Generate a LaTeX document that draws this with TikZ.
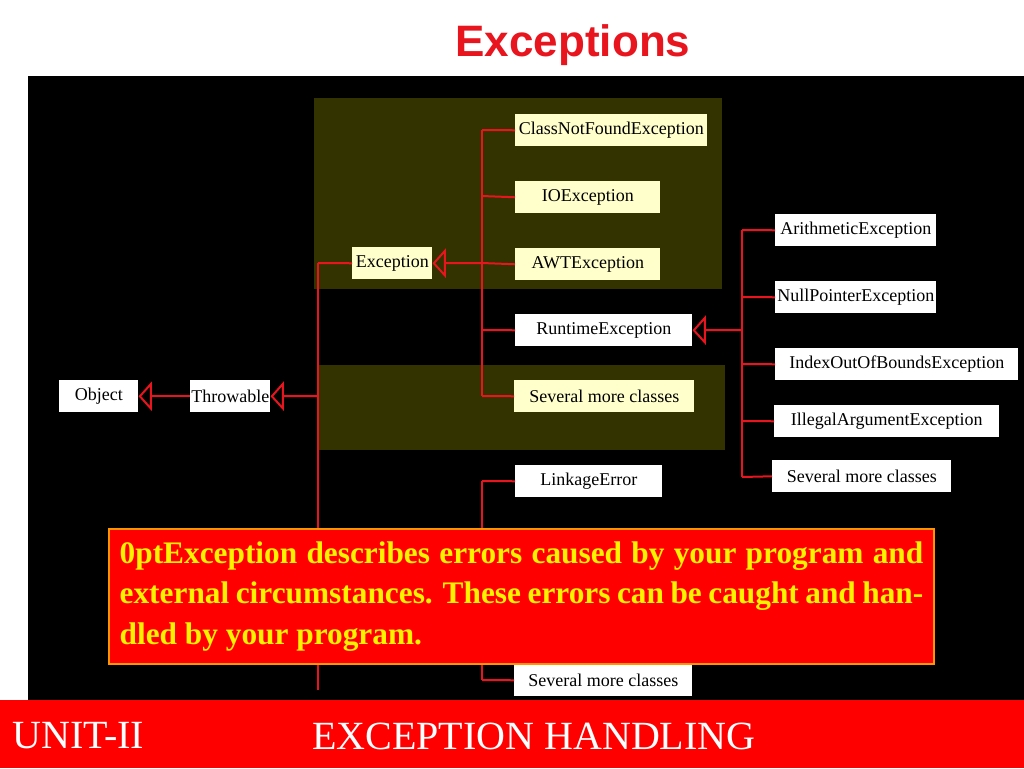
\documentclass[tikz,border=0pt]{standalone}
\usepackage{fontspec}
\setmainfont{Liberation Serif}
\newfontfamily\titlefont{Liberation Sans}
\usetikzlibrary{arrows.meta}
\definecolor{olive}{HTML}{333300}
\definecolor{paleyel}{HTML}{FFFFCC}
\definecolor{lred}{HTML}{E8141E}
\begin{document}
\begin{tikzpicture}[x=0.75pt,y=-0.75pt,
  cls/.style={anchor=north west,inner sep=0pt,minimum height=24pt,font=\fontsize{13.5}{15}\selectfont,text=black},
  wbox/.style={cls,fill=white},
  ybox/.style={cls,fill=paleyel},
  conn/.style={draw=lred,line width=1.5pt},
  inh/.style={conn,-{Triangle[open,length=10pt,width=22pt,line width=1.5pt]}}]
\useasboundingbox (0,0) rectangle (1024,768);
\fill[white] (0,0) rectangle (1024,768);
\node[font=\titlefont\bfseries\fontsize{33}{36}\selectfont,text=lred] (title) at (573,45) {Exceptions};
\fill[black] (28,76) rectangle (1024,700);
\fill[olive] (314,98) rectangle (722,289);
\fill[olive] (318,365) rectangle (725,450);
% nodes
\node[wbox,minimum width=79*0.75pt] (obj) at (59,380) {Object};
\node[wbox,minimum width=80*0.75pt] (thr) at (190,380) {Throwable};
\node[ybox,minimum width=80*0.75pt] (exc) at (352,247) {Exception};
\node[ybox,minimum width=192*0.75pt] (cnf) at (515,114) {ClassNotFoundException};
\node[ybox,minimum width=145*0.75pt] (ioe) at (515,181) {IOException};
\node[ybox,minimum width=145*0.75pt] (awt) at (515,248) {AWTException};
\node[wbox,minimum width=177*0.75pt] (rte) at (515,314) {RuntimeException};
\node[ybox,minimum width=180*0.75pt] (sm1) at (514,380) {Several more classes};
\node[wbox,minimum width=147*0.75pt] (lnk) at (515,465) {LinkageError};
\node[wbox,minimum width=178*0.75pt] (sm3) at (514,664) {Several more classes};
\node[wbox,minimum width=161*0.75pt] (ari) at (775,214) {ArithmeticException};
\node[wbox,minimum width=161*0.75pt] (npe) at (775,281) {NullPointerException};
\node[wbox,minimum width=243*0.75pt] (ioob) at (775,348) {IndexOutOfBoundsException};
\node[wbox,minimum width=225*0.75pt] (iae) at (774,405) {IllegalArgumentException};
\node[wbox,minimum width=179*0.75pt] (sm2) at (772,460) {Several more classes};
% junctions
\coordinate (jt) at (318,396);
\coordinate (jtop) at (318,263);
\coordinate (jbot) at (318,690);
\coordinate (je) at (482,263);
\coordinate (jeTop) at (482,130);
\coordinate (jeBot) at (482,396);
\coordinate (jr) at (742,330);
\coordinate (jrTop) at (742,230);
\coordinate (jrBot) at (742,477);
\coordinate (jerr) at (482,481);
\coordinate (jerrBot) at (482,680);
% connectors
\draw[inh] (thr.west) -- (obj.east);
\draw[inh] (jt) -- (thr.east);
\draw[conn] (jtop) -- (jbot);
\draw[conn] (jtop) -- (exc.west);
\draw[inh] (je) -- (exc.east);
\draw[conn] (jeTop) -- (jeBot);
\draw[conn] (jeTop) -- (cnf.west);
\draw[conn] (482,196) -- (ioe.west);
\draw[conn] (je) -- (awt.west);
\draw[conn] (482,330) -- (rte.west);
\draw[conn] (jeBot) -- (sm1.west);
\draw[inh] (jr) -- (rte.east);
\draw[conn] (jrTop) -- (jrBot);
\draw[conn] (jrTop) -- (ari.west);
\draw[conn] (742,297) -- (npe.west);
\draw[conn] (742,364) -- (ioob.west);
\draw[conn] (742,421) -- (iae.west);
\draw[conn] (jrBot) -- (sm2.west);
\draw[conn] (jerr) -- (jerrBot);
\draw[conn] (jerr) -- (lnk.west);
\draw[conn] (jerrBot) -- (sm3.west);
% note box
\node[anchor=north west,fill=red,draw={rgb,255:red,255;green,150;blue,0},line width=1.5pt,
  minimum width=825*0.75pt,minimum height=135*0.75pt,inner xsep=8pt,inner ysep=4pt,
  text width=825*0.75pt-16pt,align=justify,text=yellow,
  font=\bfseries\fontsize{23.5}{30.5}\selectfont\hyphenpenalty=10000\exhyphenpenalty=10000] (note) at (108,528)
  {Exception describes errors caused by your program and external circumstances. These errors can be caught and handled by your program.};
% bottom bar
\fill[red] (0,700) rectangle (1024,768);
\node[anchor=west,text=white,inner sep=0pt,font=\fontsize{30}{32}\selectfont] (unit) at (12,736) {UNIT-II};
\node[anchor=west,text=white,inner sep=0pt,font=\fontsize{30}{32}\selectfont] (eh) at (312,736) {EXCEPTION HANDLING};
\end{tikzpicture}
\end{document}
